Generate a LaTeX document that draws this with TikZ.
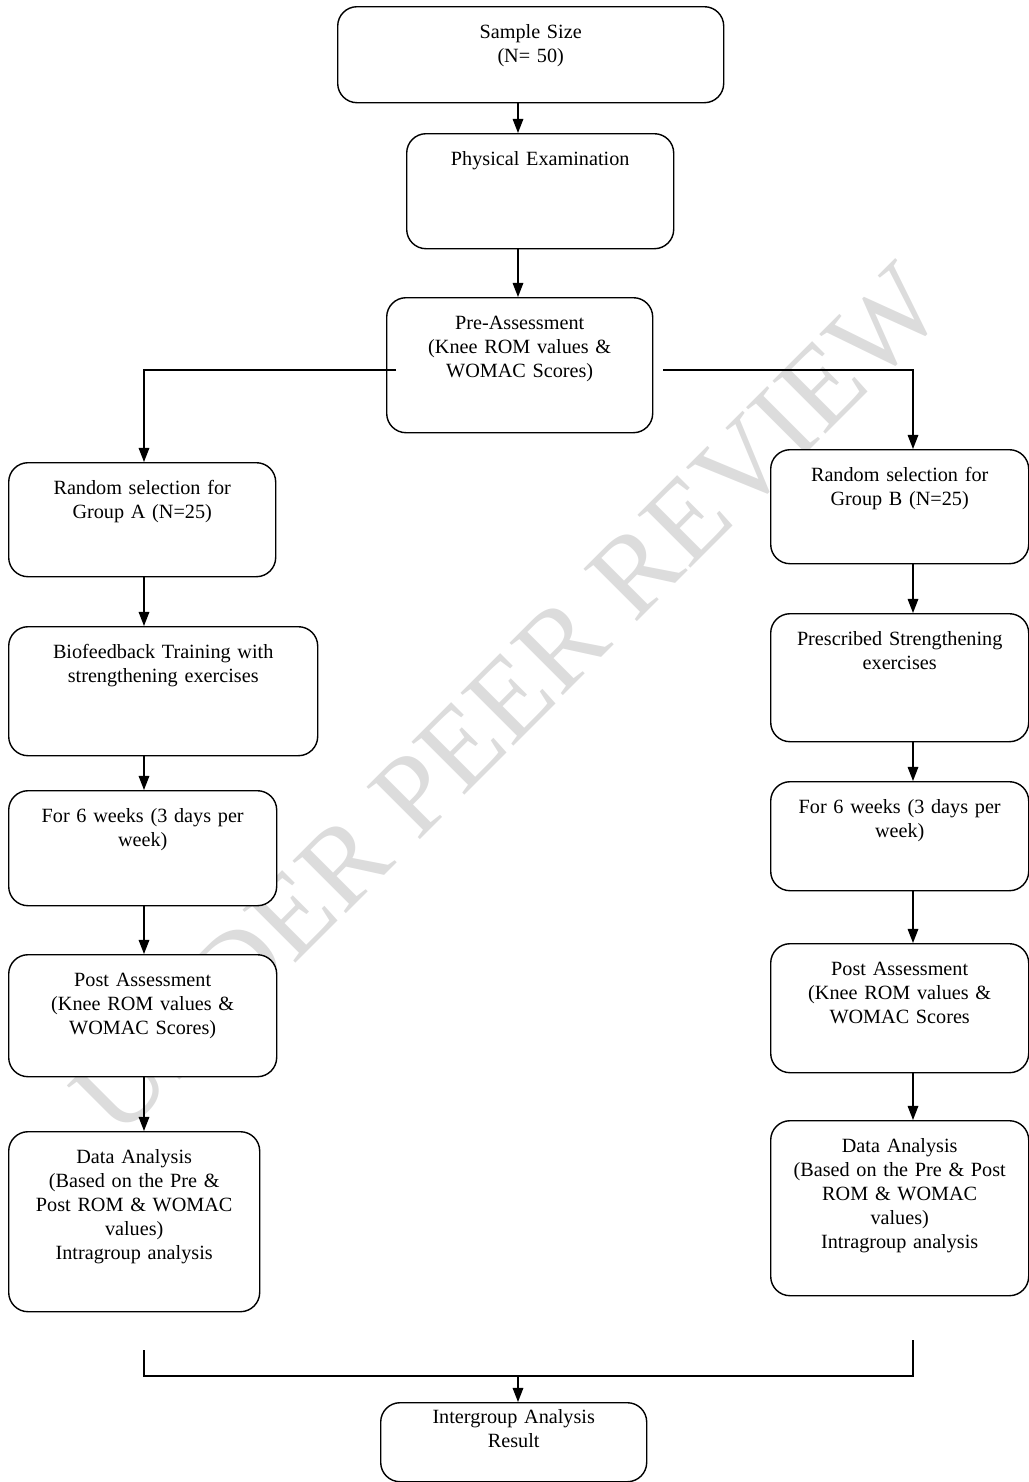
\documentclass[tikz,border=0pt]{standalone}
\usepackage{fontspec}
\setmainfont{Liberation Serif}
\usetikzlibrary{arrows.meta}
\definecolor{wmgray}{HTML}{DCDCDC}

\begin{document}
\begin{tikzpicture}[
  x=0.2mm, y=-0.2mm,
  flow/.style={
    draw,
    rounded corners=11pt,
    fill=white,
    line width=0.8pt,
    anchor=north west,
    align=center,
    inner xsep=0pt,
    inner ysep=0pt,
    text height=0.64cm,
    font=\fontsize{11.5}{13.66}\selectfont
  },
  link/.style={line width=0.8pt},
  arr/.style={link, -{Triangle[width=6pt,length=8pt]}},
  wm/.style={text=wmgray, font=\fontsize{65}{65}\selectfont}
]
  \useasboundingbox (0,0) rectangle (1029,1482);

  % watermark behind everything
  \node[wm, rotate=45] (wmark) at (508,700) {UNDER PEER REVIEW};

  % centre column
  \node[flow, text width=7.72cm, text depth=1.28cm] (samp) at (337,6) {Sample Size\\(N= 50)};
  \node[flow, text width=5.34cm, text depth=1.66cm] (phys) at (406,133) {Physical Examination};
  \node[flow, text width=5.32cm, text depth=2.06cm] (pre) at (386,297) {Pre-Assessment\\(Knee ROM values \&\\WOMAC Scores)};

  % group A
  \node[flow, text width=5.34cm, text depth=1.64cm] (randA) at (8,462) {Random selection for\\Group A (N=25)};
  \node[flow, text width=6.18cm, text depth=1.94cm] (bioA) at (8,626) {Biofeedback Training with\\strengthening exercises};
  \node[flow, text width=5.36cm, text depth=1.66cm] (weekA) at (8,790) {For 6 weeks (3 days per\\week)};
  \node[flow, text width=5.36cm, text depth=1.80cm] (postA) at (8,954) {Post Assessment\\(Knee ROM values \&\\WOMAC Scores)};
  \node[flow, text width=5.02cm, text depth=2.96cm] (dataA) at (8,1131) {Data Analysis\\(Based on the Pre \&\\Post ROM \& WOMAC\\values)\\Intragroup analysis};

  % group B
  \node[flow, text width=5.16cm, text depth=1.64cm] (randB) at (770,449) {Random selection for\\Group B (N=25)};
  \node[flow, text width=5.16cm, text depth=1.92cm] (presB) at (770,613) {Prescribed Strengthening\\exercises};
  \node[flow, text width=5.16cm, text depth=1.54cm] (weekB) at (770,781) {For 6 weeks (3 days per\\week)};
  \node[flow, text width=5.16cm, text depth=1.94cm] (postB) at (770,943) {Post Assessment\\(Knee ROM values \&\\WOMAC Scores};
  \node[flow, text width=5.16cm, text depth=2.86cm] (dataB) at (770,1120) {Data Analysis\\(Based on the Pre \& Post\\ROM \& WOMAC\\values)\\Intragroup analysis};

  % final box
  \node[flow, text width=5.32cm, text height=0.42cm, text depth=1.16cm] (result) at (380,1402) {Intergroup Analysis\\Result};

  % arrow columns
  \coordinate (cx) at (518,0);
  \coordinate (lx) at (144,0);
  \coordinate (rx) at (913,0);
  \coordinate (hy) at (0,370);

  \draw[arr] (samp.south -| cx) -- (phys.north -| cx);
  \draw[arr] (phys.south -| cx) -- (pre.north -| cx);
  \draw[arr] (pre.west |- hy) ++(10,0) -| (randA.north -| lx);
  \draw[arr] (pre.east |- hy) ++(10,0) -| (randB.north -| rx);

  \draw[arr] (randA.south -| lx) -- (bioA.north -| lx);
  \draw[arr] (bioA.south -| lx) -- (weekA.north -| lx);
  \draw[arr] (weekA.south -| lx) -- (postA.north -| lx);
  \draw[arr] (postA.south -| lx) -- (dataA.north -| lx);

  \draw[arr] (randB.south -| rx) -- (presB.north -| rx);
  \draw[arr] (presB.south -| rx) -- (weekB.north -| rx);
  \draw[arr] (weekB.south -| rx) -- (postB.north -| rx);
  \draw[arr] (postB.south -| rx) -- (dataB.north -| rx);

  % merge into result
  \coordinate (endA) at (144,1350);
  \coordinate (endB) at (913,1340);
  \coordinate (join) at (518,1376);
  \draw[link] (endA) |- (join) -| (endB);
  \draw[arr] (join) -- (result.north -| join);
\end{tikzpicture}
\end{document}
